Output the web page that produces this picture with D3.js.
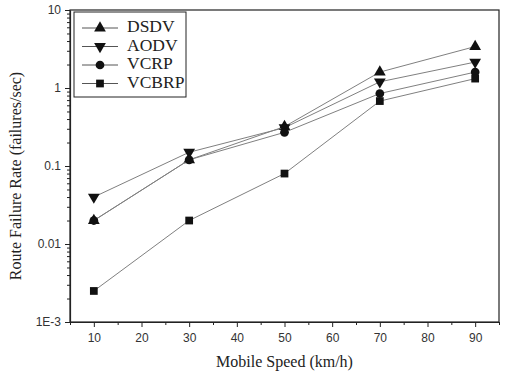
<!DOCTYPE html>
<html><head><meta charset="utf-8">
<script src="https://cdn.jsdelivr.net/npm/d3@7"></script>
<style>body{margin:0;background:#fff}</style>
</head><body><svg id="c" width="506" height="373"></svg>
<script>
const speeds = [10, 30, 50, 70, 90];
const seriesNames = ["DSDV", "AODV", "VCRP", "VCBRP"];
const dsdv  = [0.020, 0.12, 0.32, 1.6, 3.4];
const aodv  = [0.040, 0.15, 0.31, 1.2, 2.15];
const vcrp  = [0.020, 0.12, 0.27, 0.85, 1.6];
const vcbrp = [0.0025, 0.020, 0.080, 0.68, 1.32];
const xTicks = [10, 20, 30, 40, 50, 60, 70, 80, 90];
const yTicks = [0.001, 0.01, 0.1, 1, 10];
const yTickLabels = ["1E-3", "0.01", "0.1", "1", "10"];
const symbols = [d3.symbolTriangle, "tri-down", d3.symbolCircle, d3.symbolSquare];
const data = [dsdv, aodv, vcrp, vcbrp];

const svg = d3.select("#c");
const L = 70, R = 499, T = 10, B = 322;
const x = d3.scaleLinear().domain([5, 95]).range([L, R]);
const y = d3.scaleLog().domain([0.001, 10]).range([B, T]);

// frame
svg.append("rect").attr("x", L).attr("y", T).attr("width", R - L).attr("height", B - T)
  .attr("fill", "none").attr("stroke", "#222").attr("stroke-width", 1.2);

// x axis
const xAxis = d3.axisBottom(x).tickValues(xTicks).tickSize(5).tickSizeOuter(0).tickPadding(6);
const gx = svg.append("g").attr("transform", `translate(0,${B})`).call(xAxis);
gx.select(".domain").attr("stroke", "#222").attr("stroke-width", 1.2);
gx.selectAll("text").attr("font-family", "Liberation Sans, Arial, sans-serif").attr("font-size", 12).attr("fill", "#333");
const xMinor = d3.range(5, 96, 10);
svg.append("g").attr("transform", `translate(0,${B})`).call(d3.axisBottom(x).tickValues(xMinor).tickSize(3).tickSizeOuter(0).tickFormat(""))
  .select(".domain").remove();

// y axis
const yAxis = d3.axisLeft(y).tickValues(yTicks).tickFormat((d, i) => yTickLabels[i]).tickSize(5).tickSizeOuter(0).tickPadding(4);
const gy = svg.append("g").attr("transform", `translate(${L},0)`).call(yAxis);
gy.select(".domain").attr("stroke", "#222").attr("stroke-width", 1.2);
gy.selectAll("text").attr("font-family", "Liberation Sans, Arial, sans-serif").attr("font-size", 12).attr("fill", "#333");
const yMinor = [];
[0.001, 0.01, 0.1, 1].forEach(d => { for (let k = 2; k <= 9; k++) yMinor.push(d * k); });
svg.append("g").attr("transform", `translate(${L},0)`).call(d3.axisLeft(y).tickValues(yMinor).tickSize(3).tickSizeOuter(0).tickFormat(""))
  .select(".domain").remove();
svg.selectAll(".tick line").attr("stroke", "#222");

// axis titles
svg.append("text").attr("x", (L + R) / 2).attr("y", 367).attr("text-anchor", "middle")
  .attr("font-family", "Liberation Serif, Times New Roman, serif").attr("font-size", 16).attr("fill", "#222")
  .text("Mobile Speed (km/h)");
svg.append("text").attr("transform", `translate(17,176) rotate(-90)`).attr("text-anchor", "middle")
  .attr("dominant-baseline", "middle")
  .attr("font-family", "Liberation Serif, Times New Roman, serif").attr("font-size", 16).attr("fill", "#222")
  .text("Route Failure Rate (failures/sec)");

function marker(g, s, cx, cy) {
  if (s === "tri-down") {
    g.append("path").attr("d", d3.symbol().type(d3.symbolTriangle).size(60)())
      .attr("transform", `translate(${cx},${cy}) rotate(180)`).attr("fill", "#111");
  } else {
    g.append("path").attr("d", d3.symbol().type(s).size(60)())
      .attr("transform", `translate(${cx},${cy})`).attr("fill", "#111");
  }
}

const line = d3.line().x((d, i) => x(speeds[i])).y(d => y(d));
data.forEach((vals, si) => {
  const g = svg.append("g");
  g.append("path").attr("d", line(vals)).attr("fill", "none").attr("stroke", "#808080").attr("stroke-width", 1);
  vals.forEach((v, i) => marker(g, symbols[si], x(speeds[i]), y(v)));
});

// legend
const lg = svg.append("g");
lg.append("rect").attr("x", 74).attr("y", 12).attr("width", 112).attr("height", 85)
  .attr("fill", "#fff").attr("stroke", "#222").attr("stroke-width", 1);
seriesNames.forEach((n, i) => {
  const cy = 28 + i * 18.5;
  lg.append("line").attr("x1", 82).attr("x2", 118).attr("y1", cy).attr("y2", cy).attr("stroke", "#555");
  marker(lg, symbols[i], 100, cy);
  lg.append("text").attr("x", 127).attr("y", cy).attr("dominant-baseline", "middle")
    .attr("font-family", "Liberation Serif, Times New Roman, serif").attr("font-size", 17.5).attr("fill", "#222").text(n);
});
</script></body></html>
